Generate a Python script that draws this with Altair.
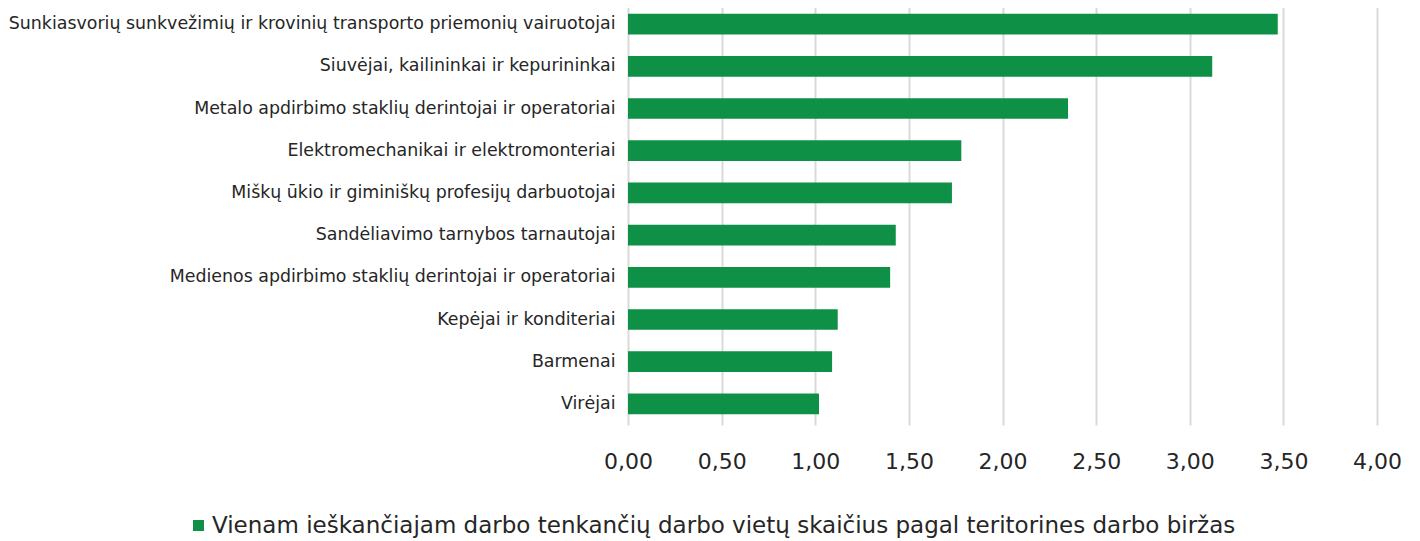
import altair as alt
import pandas as pd

categories = [
    "Sunkiasvorių sunkvežimių ir krovinių transporto priemonių vairuotojai",
    "Siuvėjai, kailininkai ir kepurininkai",
    "Metalo apdirbimo staklių derintojai ir operatoriai",
    "Elektromechanikai ir elektromonteriai",
    "Miškų ūkio ir giminiškų profesijų darbuotojai",
    "Sandėliavimo tarnybos tarnautojai",
    "Medienos apdirbimo staklių derintojai ir operatoriai",
    "Kepėjai ir konditeriai",
    "Barmenai",
    "Virėjai",
]
values = [3.47, 3.12, 2.35, 1.78, 1.73, 1.43, 1.40, 1.12, 1.09, 1.02]
series_name = "Vienam ieškančiajam darbo tenkančių darbo vietų skaičius pagal teritorines darbo biržas"
x_ticks = [0.0, 0.5, 1.0, 1.5, 2.0, 2.5, 3.0, 3.5, 4.0]

df = pd.DataFrame({"profesija": categories, "reiksme": values, "serija": [series_name] * len(categories)})

FONT = "DejaVu Sans"
GREEN = "#0e9146"
TEXT = "#262626"

chart = (
    alt.Chart(df)
    .mark_bar()
    .encode(
        x=alt.X(
            "reiksme:Q",
            scale=alt.Scale(domain=[0, 4], nice=False, zero=True),
            axis=alt.Axis(
                values=x_ticks,
                title=None,
                domain=False,
                ticks=False,
                grid=True,
                gridColor="#d9d9d9",
                gridWidth=2,
                labelExpr="replace(format(datum.value, '.2f'), '.', ',')",
                labelFont=FONT,
                labelFontSize=22,
                labelColor=TEXT,
                labelPadding=26,
                labelFlush=False,
                labelOverlap=False,
            ),
        ),
        y=alt.Y(
            "profesija:N",
            sort=categories,
            scale=alt.Scale(paddingInner=0.51, paddingOuter=0.255),
            axis=alt.Axis(
                title=None,
                domain=False,
                ticks=False,
                grid=False,
                labelFont=FONT,
                labelFontSize=17.4,
                labelColor=TEXT,
                labelPadding=13,
                labelLimit=700,
            ),
        ),
        color=alt.Color(
            "serija:N",
            scale=alt.Scale(range=[GREEN]),
            legend=alt.Legend(
                title=None,
                orient="none",
                legendX=-441,
                legendY=511,
                symbolType="square",
                symbolSize=121,
                symbolStrokeWidth=0,
                symbolOpacity=1,
                labelFont=FONT,
                labelFontSize=23,
                labelColor=TEXT,
                labelLimit=1300,
                labelOffset=2,
                padding=0,
            ),
        ),
    )
    .properties(
        width=749,
        height=422,
        padding={"left": 620, "top": -5, "right": 35, "bottom": 116},
        autosize=alt.AutoSizeParams(type="none"),
    )
    .configure_view(stroke=None)
)

chart.save("out.html", embed_options={"renderer": "svg", "actions": False})
